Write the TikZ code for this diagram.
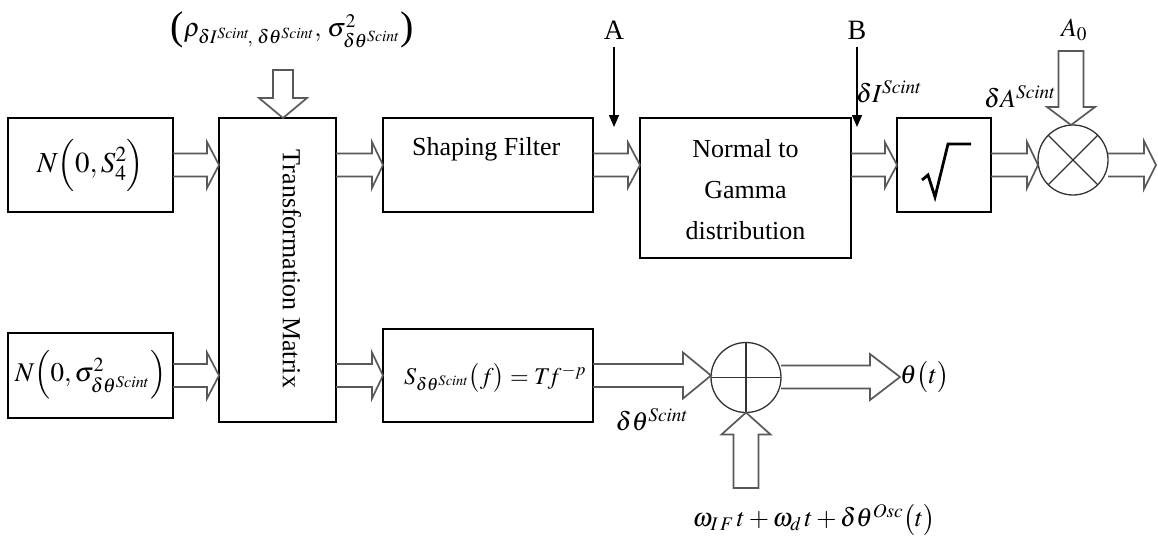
\documentclass[tikz,border=0pt]{standalone}
\usepackage{mathptmx}
\usepackage{fontspec}
\setmainfont{Liberation Serif}
\usetikzlibrary{calc,arrows.meta}
\tikzset{
  blk/.style={draw=black,line width=1.4pt,inner sep=0pt,outer sep=0pt,rectangle},
  sumc/.style={draw=black!80,line width=1.3pt,circle,inner sep=0pt,outer sep=0pt,minimum size=70pt},
  hol/.style={draw=black!65,line width=1.7pt,line join=miter},
  txt/.style={font=\fontsize{26}{41}\selectfont,inner sep=0pt},
  mth/.style={font=\fontsize{26}{30}\selectfont,inner sep=0pt},
  thinarr/.style={line width=1.5pt,-{Triangle[length=12pt,width=10pt]}}
}
\newcommand\bigparL{\mbox{\fontsize{40}{40}\selectfont\raisebox{-3pt}{(}}}
\newcommand\bigparR{\mbox{\fontsize{40}{40}\selectfont\raisebox{-3pt}{)}}}
% horizontal hollow arrow: tail, tip, head length, shaft half width, head half width
\newcommand\hR[5]{\draw[hol] let \p1=(#1), \p2=(#2) in
  (\x1,\y2+#4pt) -- (\x2-#3pt,\y2+#4pt) -- (\x2-#3pt,\y2+#5pt) -- (\p2)
  -- (\x2-#3pt,\y2-#5pt) -- (\x2-#3pt,\y2-#4pt) -- (\x1,\y2-#4pt);}
% vertical hollow arrow pointing down (closed tail)
\newcommand\hD[5]{\draw[hol] let \p1=(#1), \p2=(#2) in
  (\x2-#4pt,\y1) -- (\x2-#4pt,\y2+#3pt) -- (\x2-#5pt,\y2+#3pt) -- (\p2)
  -- (\x2+#5pt,\y2+#3pt) -- (\x2+#4pt,\y2+#3pt) -- (\x2+#4pt,\y1) -- cycle;}
% vertical hollow arrow pointing up (closed tail)
\newcommand\hU[5]{\draw[hol] let \p1=(#1), \p2=(#2) in
  (\x2-#4pt,\y1) -- (\x2-#4pt,\y2-#3pt) -- (\x2-#5pt,\y2-#3pt) -- (\p2)
  -- (\x2+#5pt,\y2-#3pt) -- (\x2+#4pt,\y2-#3pt) -- (\x2+#4pt,\y1) -- cycle;}
\begin{document}
\begin{tikzpicture}[x=1pt,y=-1pt]
\useasboundingbox (0,0) rectangle (1158,539);

% boxes
\node[blk,minimum width=165pt,minimum height=94pt] (b1) at (90.5,165) {};
\node[mth,font=\fontsize{29}{32}\selectfont] at (90.5,165) {$N\Bigl(0,S_4^2\Bigr)$};
\node[blk,minimum width=165pt,minimum height=85pt] (b2) at (90.5,375.5) {};
\node[mth,font=\fontsize{27}{30}\selectfont] at (90.5,375) {$N\Bigl(0,\sigma^2_{\delta\theta^{Scint}}\Bigr)$};
\node[blk,minimum width=117pt,minimum height=304pt] (tm) at (277.5,270) {};
\node[txt,rotate=-90] at (292,269) {Transformation Matrix};
\node[blk,minimum width=210pt,minimum height=94pt] (sf) at (488,165) {};
\node[txt,anchor=west] at (412,149) {Shaping Filter};
\node[blk,minimum width=211pt,minimum height=140pt] (ng) at (745.5,188) {};
\node[txt,align=center] at (745.5,190) {Normal to\\Gamma\\distribution};
\node[blk,minimum width=94pt,minimum height=94pt] (sq) at (944,165) {};
\draw[line width=2.8pt,line join=miter] (922,180) -- (928,175) -- (935,197) -- (948,144) -- (971,144);
\node[blk,minimum width=210pt,minimum height=93pt] (sb) at (488,375.5) {};
\node[mth,anchor=west,font=\fontsize{24}{30}\selectfont] at (404,378) {$S_{\delta\theta^{Scint}}\bigl(f\bigr)=T\!f^{-p}$};

% summing / multiplying junctions
\node[sumc] (ot) at (1073,160) {};
\draw[black!80,line width=1.3pt] (ot.north west) -- (ot.south east) (ot.north east) -- (ot.south west);
\node[sumc] (op) at (746,377.5) {};
\draw[black!80,line width=1.3pt] (op.north) -- (op.south) (op.west) -- (op.east);

% labels
\node[mth] (rho) at (292,30) {\bigparL$\rho_{\delta I^{Scint}\!,\;\delta\theta^{Scint}},\,\sigma^2_{\delta\theta^{Scint}}$\bigparR};
\node[txt,font=\fontsize{28}{30}\selectfont] (A) at (614,30) {A};
\node[txt,font=\fontsize{28}{30}\selectfont] (B) at (857,30) {B};
\node[mth] (a0) at (1074,30) {$A_0$};
\node[mth] (dI) at (889,92) {$\delta I^{Scint}$};
\node[mth] (dA) at (1020,97) {$\delta A^{Scint}$};
\node[mth] (dth) at (652,420) {$\delta\theta^{Scint}$};
\node[mth,anchor=west] (th) at (900,377) {$\theta\bigl(t\bigr)$};
\node[mth] (om) at (814,520) {$\omega_{I\,F}\,t+\omega_d\,t+\delta\theta^{Osc}\bigl(t\bigr)$};

% free-end coordinates
\coordinate (rt) at (283,70);
\coordinate (a0t) at (1071,51);
\coordinate (wb) at (747.5,488);
\coordinate (out) at (1156,165);
\coordinate (At) at (614,127);
\coordinate (Bt) at (857,127);

% hollow arrows
\hR{b1.east}{tm.west |- b1.east}{12}{11.5}{23}
\hR{b2.east}{tm.west |- b2.east}{12}{11.5}{23}
\hR{tm.east |- sf.west}{sf.west}{11}{11.5}{23}
\hR{tm.east |- sb.west}{sb.west}{11}{11.5}{23}
\hR{sf.east}{ng.west |- sf.east}{12}{11.5}{22.5}
\hR{ng.east |- sq.west}{sq.west}{12}{11.5}{22.5}
\hR{sq.east}{ot.west |- sq.east}{11}{11.5}{23}
\hR{ot.east |- sq.east}{out}{12}{11.5}{24}
\hR{sb.east}{op.west |- sb.east}{28}{11.5}{23}
\hR{op.east |- sb.east}{th.west}{30}{11.5}{23}
\hD{rt}{rt |- tm.north}{20}{10}{24}
\hD{a0t}{a0t |- ot.north}{18}{12.5}{24}
\hU{wb}{op.south}{22}{12.5}{24.5}

% thin probe arrows
\draw[thinarr,shorten <=8pt] (A.south) -- (At);
\draw[thinarr,shorten <=8pt] (B.south) -- (Bt);
\end{tikzpicture}
\end{document}
